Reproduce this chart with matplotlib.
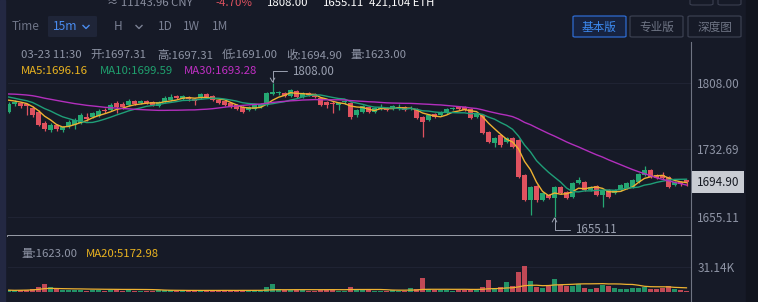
import numpy as np
import pandas as pd
import matplotlib
matplotlib.use("Agg")
import matplotlib.pyplot as plt
import matplotlib.transforms as mtransforms
from matplotlib.patches import Rectangle, FancyBboxPatch
from matplotlib.lines import Line2D

plt.rcParams["font.family"] = ["Noto Sans CJK SC", "DejaVu Sans"]

# ETH 15m candles, last one is 03-23 11:30
open_ = [
    1774.9, 1784.0, 1785.2, 1784.0, 1779.5, 1774.9, 1762.4, 1754.4, 1760.1, 1754.4,
    1758.9, 1760.1, 1762.4, 1769.2, 1769.2, 1770.4, 1777.2, 1777.2, 1785.2, 1784.0,
    1782.9, 1787.5, 1785.2, 1787.5, 1786.3, 1781.8, 1786.3, 1788.6, 1793.2, 1789.7,
    1792.0, 1789.7, 1790.9, 1795.5, 1793.2, 1788.6, 1787.5, 1785.2, 1782.9, 1780.6,
    1777.2, 1778.3, 1780.6, 1782.9, 1795.5, 1796.6, 1796.6, 1793.2, 1798.9, 1792.0,
    1796.6, 1795.5, 1790.9, 1786.3, 1785.2, 1782.9, 1786.3, 1785.2, 1771.5, 1774.9,
    1780.6, 1774.9, 1778.3, 1778.3, 1778.3, 1779.5, 1780.6, 1778.3, 1778.3, 1769.2,
    1765.8, 1772.6, 1771.5, 1773.8, 1778.3, 1780.6, 1780.6, 1778.3, 1769.2, 1771.5,
    1752.1, 1739.5, 1748.7, 1740.7, 1745.3, 1743.0, 1703.0, 1674.5, 1690.5, 1674.5,
    1680.2, 1676.8, 1689.3, 1683.6, 1677.9, 1693.9, 1695.0, 1685.9, 1690.5, 1680.2,
    1685.9, 1682.5, 1685.9, 1688.2, 1689.3, 1695.0, 1703.0, 1708.7, 1703.0, 1703.0,
    1700.8, 1691.6, 1695.0, 1697.31,
]
high = [
    1786.3, 1788.6, 1786.3, 1785.2, 1781.8, 1777.2, 1764.6, 1762.4, 1761.2, 1758.9,
    1765.8, 1768.1, 1773.8, 1773.8, 1774.9, 1778.3, 1779.5, 1785.2, 1787.5, 1786.3,
    1789.7, 1788.6, 1788.6, 1788.6, 1787.5, 1787.5, 1793.2, 1795.5, 1794.3, 1794.3,
    1793.2, 1790.9, 1796.6, 1796.6, 1794.3, 1789.7, 1788.6, 1786.3, 1784.0, 1781.8,
    1781.8, 1784.0, 1785.2, 1797.7, 1808.0, 1798.9, 1797.7, 1801.2, 1800.0, 1797.7,
    1797.7, 1796.6, 1792.0, 1787.5, 1787.5, 1786.3, 1788.6, 1786.3, 1778.3, 1782.9,
    1781.8, 1780.6, 1784.0, 1780.6, 1782.9, 1784.0, 1781.8, 1781.8, 1779.5, 1770.4,
    1772.6, 1773.8, 1776.1, 1779.5, 1780.6, 1781.8, 1781.8, 1779.5, 1774.9, 1772.6,
    1753.2, 1746.4, 1749.8, 1746.4, 1746.4, 1744.1, 1704.2, 1690.5, 1691.6, 1683.6,
    1681.4, 1690.5, 1690.5, 1684.8, 1695.0, 1700.8, 1696.2, 1690.5, 1691.6, 1687.1,
    1687.1, 1687.1, 1692.8, 1695.0, 1698.5, 1705.3, 1713.3, 1709.9, 1704.2, 1706.5,
    1701.9, 1696.2, 1696.2, 1697.31,
]
low = [
    1773.8, 1781.8, 1779.5, 1771.5, 1769.2, 1758.9, 1753.2, 1752.1, 1753.2, 1752.1,
    1756.7, 1755.5, 1761.2, 1764.6, 1768.1, 1769.2, 1773.8, 1776.1, 1773.8, 1778.3,
    1781.8, 1782.9, 1784.0, 1784.0, 1781.8, 1780.6, 1785.2, 1787.5, 1789.7, 1788.6,
    1787.5, 1782.9, 1789.7, 1790.9, 1787.5, 1784.0, 1781.8, 1779.5, 1777.2, 1773.8,
    1776.1, 1777.2, 1779.5, 1781.8, 1794.3, 1794.3, 1792.0, 1792.0, 1790.9, 1790.9,
    1793.2, 1790.9, 1781.8, 1779.5, 1773.8, 1777.2, 1784.0, 1766.9, 1769.2, 1773.8,
    1773.8, 1773.8, 1777.2, 1776.1, 1777.2, 1777.2, 1776.1, 1777.2, 1766.9, 1746.4,
    1764.6, 1768.1, 1770.4, 1772.6, 1777.2, 1777.2, 1776.1, 1766.9, 1768.1, 1749.8,
    1739.5, 1735.0, 1735.0, 1739.5, 1733.8, 1699.6, 1673.4, 1657.4, 1672.2, 1673.4,
    1675.6, 1655.11, 1681.4, 1675.6, 1676.8, 1692.8, 1684.8, 1684.8, 1679.1, 1666.5,
    1676.8, 1681.4, 1684.8, 1687.1, 1688.2, 1693.9, 1701.9, 1699.6, 1698.5, 1698.5,
    1688.2, 1690.5, 1690.5, 1691.00,
]
close = [
    1784.0, 1786.3, 1781.8, 1781.8, 1771.5, 1760.1, 1755.5, 1760.1, 1755.5, 1757.8,
    1763.5, 1765.8, 1771.5, 1766.9, 1773.8, 1776.1, 1776.1, 1782.9, 1780.6, 1780.6,
    1787.5, 1784.0, 1787.5, 1785.2, 1782.9, 1786.3, 1790.9, 1792.0, 1790.9, 1793.2,
    1789.7, 1787.5, 1795.5, 1792.0, 1788.6, 1785.2, 1782.9, 1780.6, 1778.3, 1774.9,
    1780.6, 1782.9, 1784.0, 1796.6, 1797.7, 1797.7, 1793.2, 1800.0, 1792.0, 1796.6,
    1794.3, 1792.0, 1782.9, 1782.9, 1784.0, 1785.2, 1787.5, 1769.2, 1777.2, 1781.8,
    1774.9, 1779.5, 1780.6, 1777.2, 1781.8, 1780.6, 1777.2, 1779.5, 1768.1, 1763.5,
    1771.5, 1769.2, 1774.9, 1778.3, 1779.5, 1778.3, 1777.2, 1768.1, 1773.8, 1751.0,
    1740.7, 1745.3, 1737.3, 1745.3, 1735.0, 1700.8, 1674.5, 1689.3, 1674.5, 1682.5,
    1676.8, 1689.3, 1682.5, 1676.8, 1693.9, 1697.3, 1685.9, 1689.3, 1680.2, 1685.9,
    1677.9, 1685.9, 1691.6, 1693.9, 1697.3, 1704.2, 1708.7, 1700.8, 1699.6, 1699.6,
    1689.3, 1695.0, 1692.8, 1694.90,
]
volume = [
    2300, 1900, 2400, 2800, 3600, 6500, 10200, 6300, 3200, 2600,
    2900, 2300, 3100, 1800, 2000, 2400, 1500, 2600, 2200, 1800,
    2000, 1600, 1400, 1700, 1500, 2100, 2700, 2500, 1600, 1900,
    1500, 2200, 2800, 1800, 2100, 2600, 2200, 2400, 1900, 2700,
    1800, 2000, 1700, 6800, 10100, 3900, 2300, 3100, 2600, 1900,
    1500, 1800, 2900, 2100, 2500, 1800, 1400, 6200, 3300, 2400,
    2300, 1700, 1500, 1300, 1900, 1600, 1800, 5600, 3900, 17200,
    4300, 2100, 2400, 2700, 1500, 1900, 2200, 3300, 2600, 6100,
    15300, 4800, 6400, 12800, 6900, 24300, 32400, 13600, 6500, 5400,
    7900, 16200, 8300, 7600, 7600, 10200, 5000, 3800, 4700, 8800,
    7900, 5200, 3900, 3800, 4500, 5200, 6300, 3600, 4200, 4600,
    6900, 3500, 2700, 1623,
]
# closes just left of the visible window, only used to seed the moving averages
prior_close = [
    1792, 1795, 1798, 1796, 1799, 1801, 1797, 1794, 1796, 1799,
    1802, 1800, 1797, 1795, 1798, 1800, 1797, 1794, 1796, 1798,
    1800, 1797, 1795, 1792, 1794, 1791, 1788, 1790, 1789,
]

price_ticks = [1808.00, 1732.69, 1655.11]
last_price = 1694.90
vol_ticks = [31140]
vol_tick_labels = ["31.14K"]
ma_values = {"MA5": 1696.16, "MA10": 1699.59, "MA30": 1693.28}
vol_ma20_value = 5172.98
last_time = "03-23 11:30"
header = ["≈ 11143.96 CNY", "-4.70%", "1808.00", "1655.11", "421,104 ETH"]
periods = ["H", "1D", "1W", "1M"]
buttons = ["基本版", "专业版", "深度图"]

BG = "#161a27"
GRID = "#1f2333"
GREEN = "#25a873"
RED = "#e0525f"
GREY = "#8e94a5"
YELLOW = "#eeb232"
TEAL = "#1f9f78"
MAGENTA = "#b22fbd"
W, H = 758, 302

o = np.array(open_)
h = np.array(high)
l = np.array(low)
c = np.array(close)
x = np.arange(len(c))
colors = np.where(c >= o, GREEN, RED)

closes_all = pd.Series(prior_close + close)
n0 = len(prior_close)
ma5 = closes_all.rolling(5).mean().iloc[n0:].to_numpy()
ma10 = closes_all.rolling(10).mean().iloc[n0:].to_numpy()
ma30 = closes_all.rolling(30).mean().iloc[n0:].to_numpy()
vol_ma20 = pd.Series(volume).rolling(20, min_periods=1).mean().to_numpy()

fig = plt.figure(figsize=(W / 100, H / 100), dpi=100, facecolor=BG)


def fx(px):
    return px / W


def fy(py):
    return 1 - py / H


def ftext(px, py, s, **kw):
    return fig.text(fx(px), fy(py), s, **kw)


# side strips
fig.patches.append(Rectangle((0, 0), fx(5), 1, transform=fig.transFigure,
                             color="#232842", zorder=0))
fig.patches.append(Rectangle((fx(746), 0), fx(12), 1, transform=fig.transFigure,
                             color="#11141e", zorder=0))

# ---- price pane
ax = fig.add_axes([fx(8), fy(236), fx(691) - fx(8), fy(42) - fy(236)])
ax.set_facecolor(BG)
ax.set_xlim(-0.1, 113.75)
ax.set_ylim(1633.4, 1854.8)
ax.vlines(x, l, h, colors=colors, lw=0.9, zorder=2)
ax.bar(x, np.maximum(np.abs(c - o), 0.6), bottom=np.minimum(o, c), width=0.72,
       color=colors, zorder=3)
ax.plot(x, ma5, color=YELLOW, lw=1.0, zorder=4)
ax.plot(x, ma10, color=TEAL, lw=1.0, zorder=4)
ax.plot(x, ma30, color=MAGENTA, lw=1.0, zorder=4)

ax.yaxis.tick_right()
ax.set_yticks(price_ticks)
ax.set_yticklabels([f"{v:.2f}" for v in price_ticks])
ax.tick_params(axis="y", length=0, pad=4.5, labelsize=8.5, labelcolor=GREY)
ax.set_xticks([])
ax.grid(axis="y", color=GRID, lw=0.8)
for side in ["top", "left"]:
    ax.spines[side].set_visible(False)
ax.spines["bottom"].set_color("#a3a7b2")
ax.spines["bottom"].set_linewidth(1.3)
ax.spines["right"].set_color("#6f7482")
ax.spines["right"].set_linewidth(0.8)

blend = mtransforms.blended_transform_factory(ax.transAxes, ax.transData)
ax.text(1.0088, last_price, f"{last_price:.2f}", transform=blend, ha="left",
        va="center", fontsize=8.5, color="#161922",
        bbox=dict(boxstyle="square,pad=0.4", fc="#c9ccd3", ec="none"))

# max / min markers
i_hi = int(np.argmax(h))
i_lo = int(np.argmin(l))
arrow = dict(arrowstyle="->,head_length=0.35,head_width=0.2", color="#9aa0b0",
             lw=0.7, relpos=(0, 0.5), shrinkA=1, shrinkB=0,
             connectionstyle="angle,angleA=0,angleB=90,rad=0")
ax.annotate(f"{h[i_hi]:.2f}", xy=(i_hi, h[i_hi]), xytext=(19, 12),
            textcoords="offset pixels", ha="left", va="center", fontsize=8.3,
            color="#9aa0b0", arrowprops=arrow)
ax.annotate(f"{l[i_lo]:.2f}", xy=(i_lo, l[i_lo]), xytext=(20, -13),
            textcoords="offset pixels", ha="left", va="center", fontsize=8.3,
            color="#9aa0b0", arrowprops=arrow)

# ---- volume pane
axv = fig.add_axes([fx(8), 0, fx(691) - fx(8), fy(236)])
axv.set_facecolor(BG)
axv.set_xlim(-0.1, 113.75)
axv.set_ylim(-12456, 69754)
axv.bar(x, volume, width=0.72, color=colors, alpha=0.85, zorder=3)
axv.plot(x, vol_ma20, color=YELLOW, lw=0.9, zorder=4)
axv.yaxis.tick_right()
axv.set_yticks(vol_ticks)
axv.set_yticklabels(vol_tick_labels)
axv.tick_params(axis="y", length=0, pad=4.5, labelsize=8.5, labelcolor=GREY)
axv.set_xticks([])
axv.grid(axis="y", color=GRID, lw=0.8)
for side in ["top", "left", "bottom"]:
    axv.spines[side].set_visible(False)
axv.spines["right"].set_color("#6f7482")
axv.spines["right"].set_linewidth(0.8)

# ---- legends inside panes
info_font = dict(fontsize=8.2, va="center")
ftext(21, 55, last_time, color=GREY, **info_font)
for px, lab, v in [(90, "开", o[-1]), (157, "高", h[-1]), (222, "低", l[-1]),
                   (286, "收", c[-1]), (350, "量", volume[-1])]:
    ftext(px, 55, f"{lab}:{v:.2f}", color=GREY, **info_font)
for px, (name, v), col in zip([21, 100, 184], ma_values.items(),
                              ["#e9b320", "#1fa06e", "#c02fc4"]):
    ftext(px, 71, f"{name}:{v:.2f}", color=col, **info_font)
ftext(21, 254, f"量:{volume[-1]:.2f}", color=GREY, **info_font)
ftext(86, 254, f"MA20:{vol_ma20_value:.2f}", color="#e9b320", **info_font)

# ---- header row (cut off at the top of the screenshot)
for px, s, col in zip([107, 215, 267, 323, 369], header,
                      ["#8a8fa0", "#e0525f", "white", "white", "white"]):
    ftext(px, 6, s, color=col, fontsize=8.2, va="baseline")
for bx in [690, 718]:
    fig.patches.append(FancyBboxPatch((fx(bx), fy(5)), fx(23), fy(-10) - fy(5),
                                      boxstyle="round,pad=0,rounding_size=0.004",
                                      transform=fig.transFigure, fc="none",
                                      ec="#3a3f50", lw=0.8))

# ---- toolbar
fig.patches.append(FancyBboxPatch((fx(48), fy(37)), fx(49), fy(16) - fy(37),
                                  boxstyle="round,pad=0,rounding_size=0.003",
                                  transform=fig.transFigure, fc="#1f2538",
                                  ec="none"))
ftext(12, 27, "Time", color="#6f7587", fontsize=8.5, va="center")
ftext(53, 27, "15m", color="#4a8cf0", fontsize=8.7, va="center")
for cx, col in [(86, "#4a8cf0"), (139, "#7a8093")]:
    fig.lines.append(Line2D([fx(cx - 3), fx(cx), fx(cx + 3)],
                            [fy(25.5), fy(28.5), fy(25.5)],
                            transform=fig.transFigure, color=col, lw=1.0))
for px, s in zip([114, 158, 183, 212], periods):
    ftext(px, 27, s, color="#7a8093", fontsize=8.5, va="center")

for bx, s in zip([573, 630, 688], buttons):
    active = s == buttons[0]
    fig.patches.append(FancyBboxPatch(
        (fx(bx), fy(37)), fx(53), fy(16) - fy(37),
        boxstyle="round,pad=0,rounding_size=0.003", transform=fig.transFigure,
        fc="#172340" if active else "none",
        ec="#2e6bd1" if active else "#3a3f50", lw=0.9))
    ftext(bx + 26.5, 27, s, color="#3d8bf2" if active else "#6f7585",
          fontsize=8.4, ha="center", va="center")

fig.savefig("out.png", dpi=100, facecolor=BG)
